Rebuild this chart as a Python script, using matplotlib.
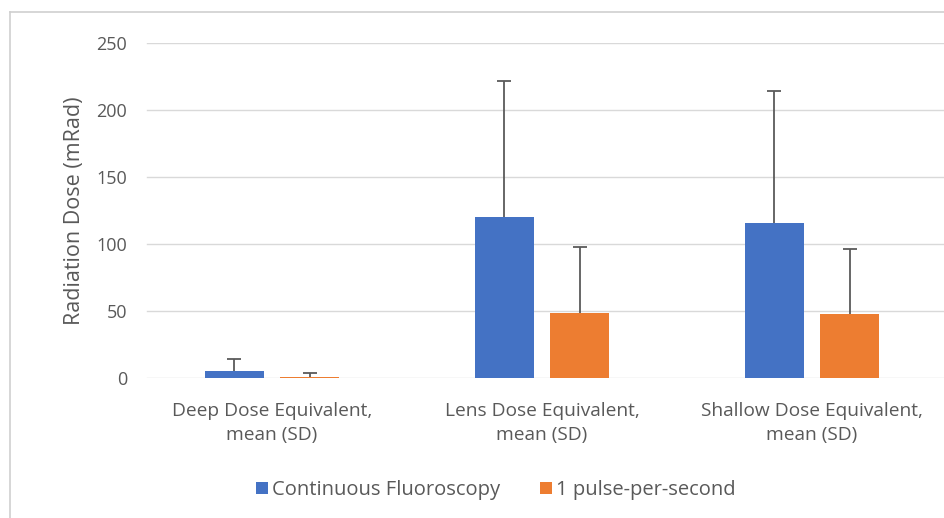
import numpy as np
import matplotlib.pyplot as plt
from matplotlib.lines import Line2D

# dose by measurement type, mean with upper SD bar
categories = ['Deep Dose Equivalent,\nmean (SD)',
              'Lens Dose Equivalent,\nmean (SD)',
              'Shallow Dose Equivalent,\nmean (SD)']
continuous_mean = [5.5, 120, 115.5]
continuous_sd = [9, 101.5, 99]
pulse_mean = [1, 48.5, 47.5]
pulse_sd = [3, 49, 48.5]
series_names = ['Continuous Fluoroscopy', '1 pulse-per-second']
yticks = [0, 50, 100, 150, 200, 250]

blue = '#4472C4'
orange = '#ED7D31'
grey_text = '#595959'

plt.rcParams['font.family'] = ['Open Sans', 'DejaVu Sans']

fig = plt.figure(figsize=(9.45, 5.18), dpi=100)
ax = fig.add_axes([137/945, 1 - 378/518, 810/945, 335/518])

x = np.arange(len(categories))
w = 0.219
off = 0.139
ax.bar(x - off, continuous_mean, w, color=blue, label=series_names[0], zorder=3)
ax.bar(x + off, pulse_mean, w, color=orange, label=series_names[1], zorder=3)

# only the upper half of each error bar is drawn
for xs, m, sd in [(x - off, continuous_mean, continuous_sd), (x + off, pulse_mean, pulse_sd)]:
    eb = ax.errorbar(xs, m, yerr=[np.zeros(3), sd], fmt='none', ecolor='#5a5a5a',
                     elinewidth=1.3, capsize=5, capthick=1.3, zorder=4)
    eb[1][0].set_visible(False)

ax.set_xlim(-0.5, 2.5)
ax.set_ylim(0, 250)
ax.set_yticks(yticks)
ax.set_xticks(x)
ax.set_xticklabels(categories, fontsize=13.8, color=grey_text, linespacing=1.45)
ax.tick_params(axis='y', labelsize=13, colors=grey_text, length=0, pad=7)
ax.tick_params(axis='x', length=0, pad=17)
for t in yticks:
    ax.axhline(t, xmin=10/810, color='#d9d9d9', linewidth=1, zorder=0)
for s in ax.spines.values():
    s.set_visible(False)
ax.set_ylabel('Radiation Dose (mRad)', fontsize=15.5, color=grey_text, labelpad=8)

ax.legend(loc='center', bbox_to_anchor=(496/945, 1 - 490/518), bbox_transform=fig.transFigure,
          ncol=2, frameon=False, fontsize=14.5, labelcolor=grey_text,
          handlelength=0.6, handleheight=0.6, handletextpad=0.2, columnspacing=2.0)

# thin frame around the chart area
fig.add_artist(Line2D([10/945, 1], [1 - 12/518, 1 - 12/518], transform=fig.transFigure,
                      color='#cfcfcf', linewidth=1.2))
fig.add_artist(Line2D([10/945, 10/945], [0, 1 - 12/518], transform=fig.transFigure,
                      color='#cfcfcf', linewidth=1.2))

fig.savefig('out.png', dpi=100)
